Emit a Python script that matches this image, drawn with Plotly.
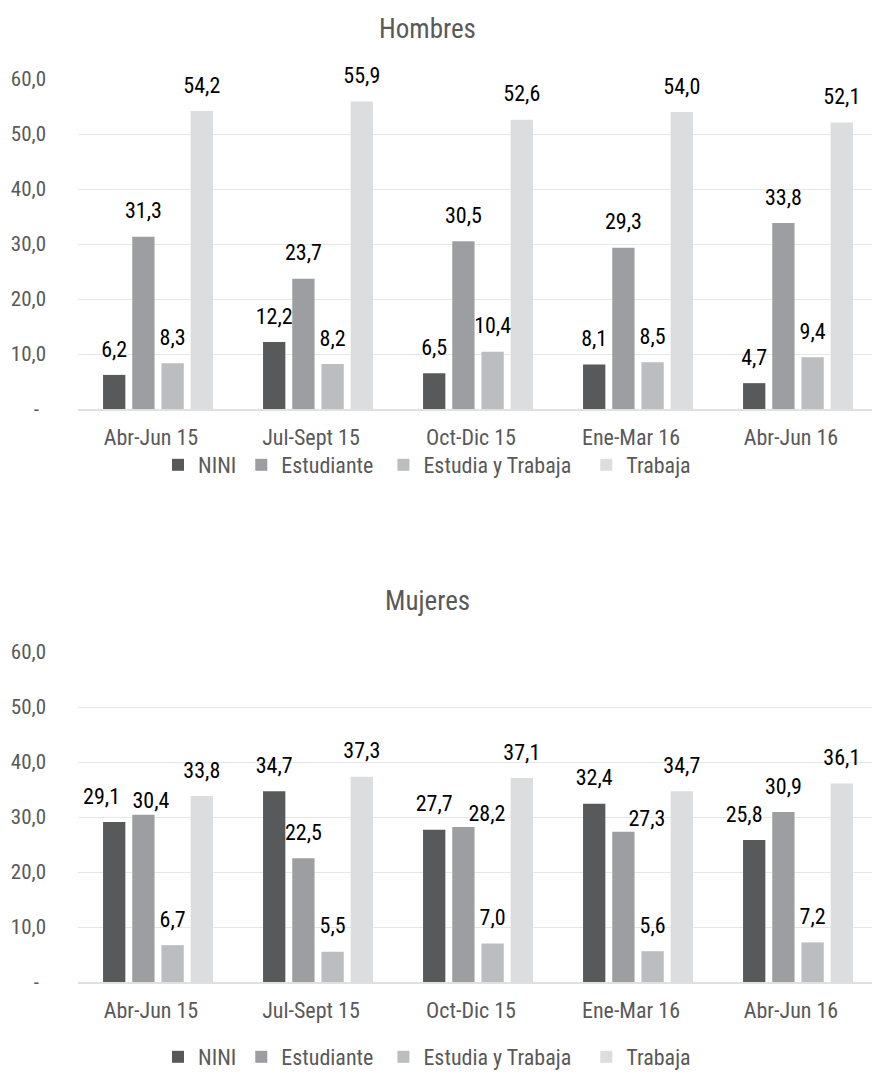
import plotly.graph_objects as go
from plotly.subplots import make_subplots

categories = ["Abr-Jun 15", "Jul-Sept 15", "Oct-Dic 15", "Ene-Mar 16", "Abr-Jun 16"]
series_names = ["NINI", "Estudiante", "Estudia y Trabaja", "Trabaja"]
colors = ["#58595b", "#9d9ea1", "#bcbdc0", "#dcdddf"]

hombres_nini = [6.2, 12.2, 6.5, 8.1, 4.7]
hombres_estudiante = [31.3, 23.7, 30.5, 29.3, 33.8]
hombres_estudia_trabaja = [8.3, 8.2, 10.4, 8.5, 9.4]
hombres_trabaja = [54.2, 55.9, 52.6, 54.0, 52.1]

mujeres_nini = [29.1, 34.7, 27.7, 32.4, 25.8]
mujeres_estudiante = [30.4, 22.5, 28.2, 27.3, 30.9]
mujeres_estudia_trabaja = [6.7, 5.5, 7.0, 5.6, 7.2]
mujeres_trabaja = [33.8, 37.3, 37.1, 34.7, 36.1]

tick_vals = [0, 10, 20, 30, 40, 50, 60]
tick_text = ["-\u00a0\u200a", "10,0", "20,0", "30,0", "40,0", "50,0", "60,0"]

FONT = "Liberation Sans Narrow, Roboto Condensed, Roboto, Arial"
W, H = 872, 1073
ML, MR = 78, 0
CAT_PX = 160  # pixel width of one category band

NB = "\u00a0"
STD = 19  # invisible marker size that lifts labels above the bars


def fmt(v):
    return f"{v:.1f}".replace(".", ",")


# label placement tweaks (as in the original): padding, text position, marker size
def label_specs(row, series_idx, vals):
    texts = [fmt(v) for v in vals]
    pos = ["top center"] * len(vals)
    sizes = [STD] * len(vals)
    if row == 2 and series_idx == 0:
        texts[0] = texts[0] + NB * 5
        texts[4] = texts[4] + NB * 4
    if row == 2 and series_idx == 1:
        texts[0] = NB * 3 + texts[0]
        sizes[0] = 1
        for i in (2, 3):
            texts[i] = NB + texts[i]
            pos[i] = "top right"
            sizes[i] = 0
    return texts, pos, sizes


fig = make_subplots(rows=2, cols=1, vertical_spacing=0.1)

panels = [
    (1, [hombres_nini, hombres_estudiante, hombres_estudia_trabaja, hombres_trabaja], "legend"),
    (2, [mujeres_nini, mujeres_estudiante, mujeres_estudia_trabaja, mujeres_trabaja], "legend2"),
]

legend_names = ["NINI", "Estudiante" + NB, "Estudia y Trabaja" + NB * 2, "Trabaja"]

for row, data, leg in panels:
    for name, vals, col in zip(legend_names, data, colors):
        fig.add_trace(go.Bar(x=categories, y=vals, name=name, marker_color=col,
                             marker_line_width=0, legend=leg, hoverinfo="skip"),
                      row=row, col=1)
    for i, (vals, col) in enumerate(zip(data, colors)):
        texts, pos, sizes = label_specs(row, i, vals)
        fig.add_trace(go.Scatter(x=categories, y=vals, mode="markers+text",
                                 marker=dict(size=sizes, opacity=0),
                                 text=texts, textposition=pos,
                                 textfont=dict(size=22, color="#000000", family=FONT),
                                 showlegend=False, cliponaxis=False, hoverinfo="skip"),
                      row=row, col=1)


def ydom(top_px, bot_px):
    return [1 - bot_px / H, 1 - top_px / H]


plot_w = W - ML - MR
x_range = [-0.5, -0.5 + plot_w / CAT_PX]

fig.update_yaxes(range=[0, 60], tickvals=tick_vals, ticktext=tick_text,
                 showgrid=True, gridcolor="#e6e6e6", gridwidth=1.3,
                 zeroline=False, showline=False, ticks="", automargin=False,
                 tickfont=dict(size=21, color="#595959", family=FONT),
                 ticklabelstandoff=31)
fig.update_yaxes(domain=ydom(79, 409), row=1, col=1)
fig.update_yaxes(domain=ydom(652, 982), row=2, col=1)
fig.update_xaxes(range=x_range, showgrid=False, showline=True, linecolor="#e0e0e0",
                 linewidth=1.5, ticks="", automargin=False,
                 tickfont=dict(size=22, color="#595959", family=FONT),
                 ticklabelstandoff=8, ticklabelshift=-7)

cx = (427 - ML) / plot_w
leg_common = dict(orientation="h", xanchor="center", x=(427 - ML) / plot_w,
                  yanchor="middle",
                  font=dict(size=22, color="#595959", family=FONT),
                  bgcolor="rgba(0,0,0,0)", itemwidth=30, tracegroupgap=0)

fig.update_layout(
    width=W, height=H,
    margin=dict(l=ML, r=MR, t=0, b=0, autoexpand=False),
    paper_bgcolor="white", plot_bgcolor="white",
    barmode="group", bargap=0.27, bargroupgap=0.236,
    scattermode="group",
    showlegend=True,
    legend=dict(**leg_common, y=1 - 465 / H),
    legend2=dict(**leg_common, y=1 - 1057 / H),
    font=dict(family=FONT),
    annotations=[
        dict(text="Hombres", x=cx, y=1 - 29 / H, xref="paper", yref="paper",
             showarrow=False, font=dict(size=27, color="#595959", family=FONT),
             xanchor="center", yanchor="middle"),
        dict(text="Mujeres", x=cx, y=1 - 601 / H, xref="paper", yref="paper",
             showarrow=False, font=dict(size=27, color="#595959", family=FONT),
             xanchor="center", yanchor="middle"),
    ],
)

fig.write_html("out.html", config={"displayModeBar": False},
               post_script="document.body.style.margin='0';document.body.style.overflow='hidden';")
